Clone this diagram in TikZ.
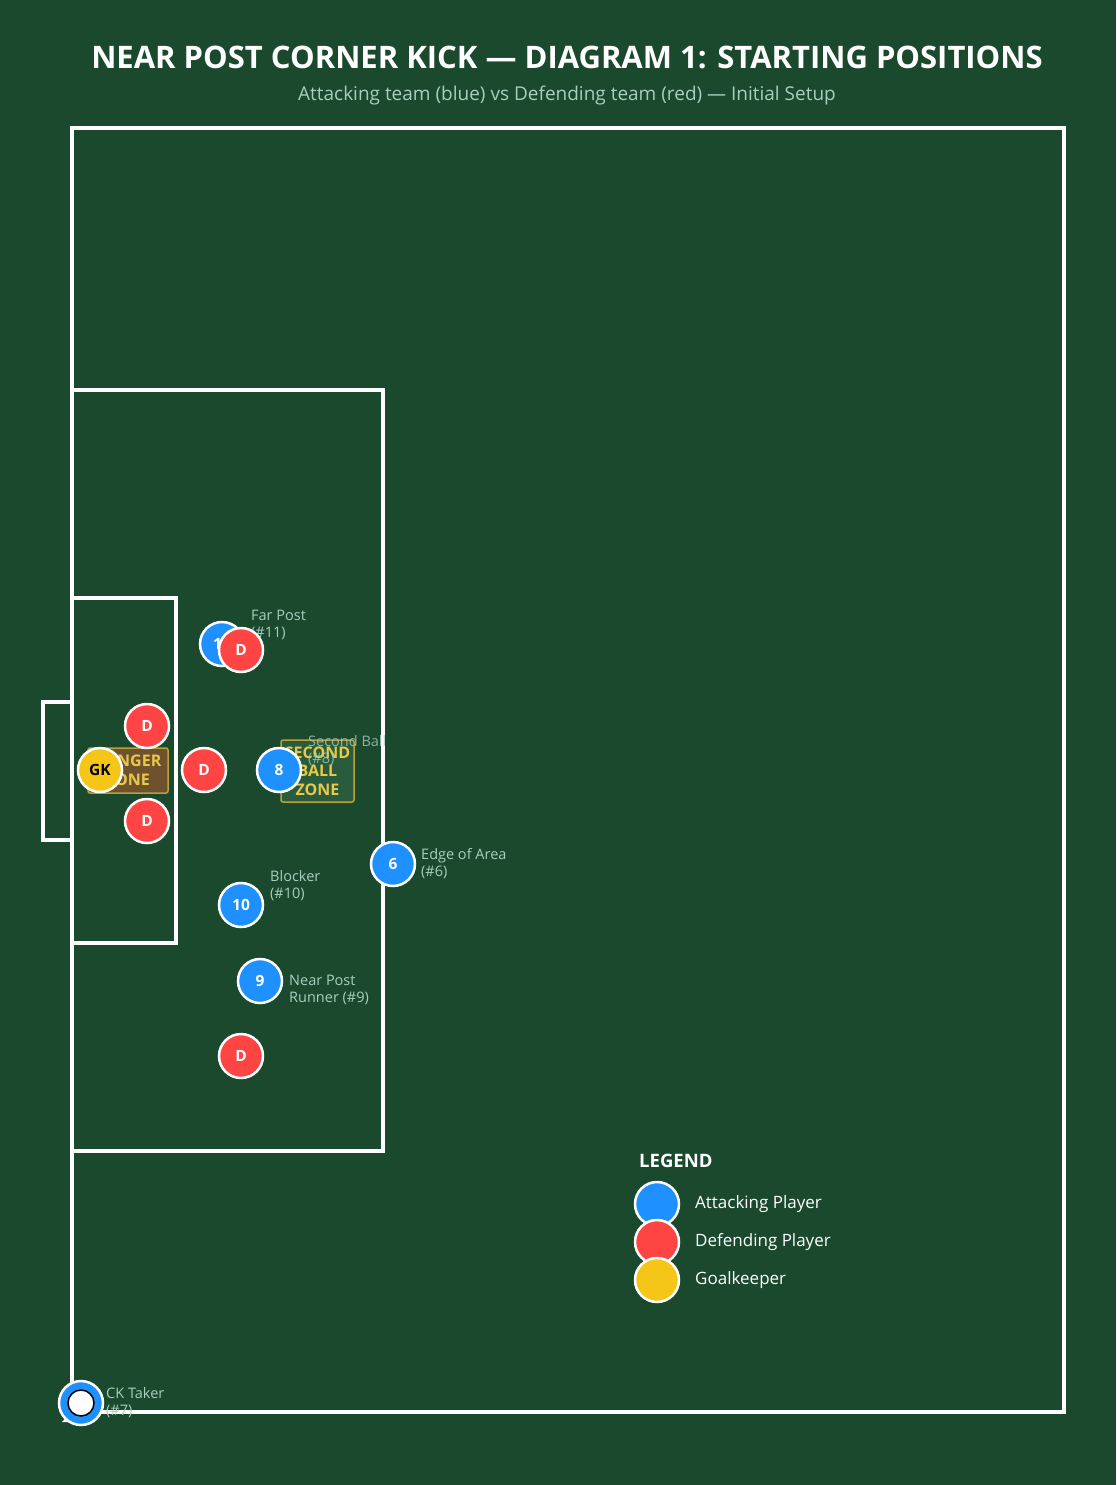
\documentclass[tikz,border=0pt]{standalone}
\usepackage{fontspec}
\setmainfont{Open Sans}
\definecolor{bg}{RGB}{27,73,45}
\definecolor{lbl}{RGB}{168,206,190}
\definecolor{atk}{RGB}{30,144,255}
\definecolor{dfn}{RGB}{255,68,68}
\definecolor{gkc}{RGB}{245,197,24}
\definecolor{gold}{RGB}{232,200,74}
\definecolor{danger}{RGB}{110,82,45}
\definecolor{sbz}{RGB}{40,92,60}
\begin{document}
\begin{tikzpicture}[x=1pt,y=-1pt,
  line/.style={draw=white,line width=3.2pt},
  player/.style={circle,draw=white,line width=2.5pt,minimum size=44pt,inner sep=0pt,text=white,font=\fontsize{15.5}{15.5}\selectfont\bfseries},
  atkp/.style={player,fill=atk},
  dfnp/.style={player,fill=dfn},
  gkp/.style={player,fill=gkc,text=black},
  lab/.style={anchor=west,align=left,text=lbl,inner sep=0pt,font=\fontsize{14.5}{17}\selectfont},
  zonebox/.style={draw=gold!80!black,line width=1.5pt,rounded corners=2pt,text=gold,align=center,inner sep=0pt,font=\fontsize{16}{18.5}\selectfont\bfseries},
  legtxt/.style={anchor=west,text=white,inner sep=0pt,font=\fontsize{17}{17}\selectfont}]
\fill[bg] (0,0) rectangle (1116,1485);
\useasboundingbox (0,0) rectangle (1116,1485);
% title
\node[text=white,font=\fontsize{31}{31}\selectfont\bfseries] (title) at (567,57) {NEAR POST CORNER KICK — DIAGRAM 1: STARTING POSITIONS};
\node[text=lbl,font=\fontsize{19}{19}\selectfont] (subtitle) at (567,96) {Attacking team (blue) vs Defending team (red) — Initial Setup};
% pitch
\draw[line] (72,128) rectangle (1064,1412);
\draw[line] (72,390) rectangle (383,1151);
\draw[line] (72,598) rectangle (176,943);
\draw[line] (43,702) rectangle (72,840);
% zones
\node[zonebox,fill=danger,minimum width=80pt,minimum height=45pt] (danger) at (128,770.5) {DANGER\\ZONE};
\node[zonebox,fill=sbz,minimum width=73pt,minimum height=62pt] (sbzone) at (317.5,771) {SECOND\\BALL\\ZONE};
% labels
\node[lab] (l11) at (251,625) {Far Post\\(\#11)};
\node[lab,text opacity=0.8] (l8) at (308,751) {Second Ball\\(\#8)};
\node[lab] (l6) at (421,864) {Edge of Area\\(\#6)};
\node[lab] (l10) at (270,886) {Blocker\\(\#10)};
\node[lab] (l9) at (289,990) {Near Post\\Runner (\#9)};
\node[lab] (l7) at (106,1403) {CK Taker\\(\#7)};
% players
\node[atkp] (p11) at (222,644) {11};
\node[dfnp] (d1) at (241,650) {D};
\node[dfnp] (d2) at (147,726) {D};
\node[dfnp] (d3) at (204,770) {D};
\node[dfnp] (d4) at (147,821) {D};
\node[gkp] (gk) at (100,770) {GK};
\node[atkp] (p8) at (279,770) {8};
\node[atkp] (p6) at (393,864) {6};
\node[atkp] (p10) at (241,905) {10};
\node[atkp] (p9) at (260,981) {9};
\node[dfnp] (d5) at (241,1056) {D};
% corner taker
\fill[white] (62,1422) -- (70,1413) -- (74,1422) -- cycle;
\node[atkp] (p7) at (81,1403) {};
\node[circle,fill=white,draw=black,line width=1.5pt,minimum size=26pt,inner sep=0pt] (ball) at (81,1403) {};
% legend
\node[anchor=west,text=white,inner sep=0pt,font=\fontsize{18.5}{18.5}\selectfont\bfseries] (legt) at (639,1161) {LEGEND};
\node[atkp] (la) at (657,1204) {};
\node[dfnp] (ld) at (657,1242) {};
\node[gkp] (lg) at (657,1280) {};
\node[legtxt] (lat) at (695,1204) {Attacking Player};
\node[legtxt] (ldt) at (695,1242) {Defending Player};
\node[legtxt] (lgt) at (695,1280) {Goalkeeper};
\end{tikzpicture}
\end{document}
